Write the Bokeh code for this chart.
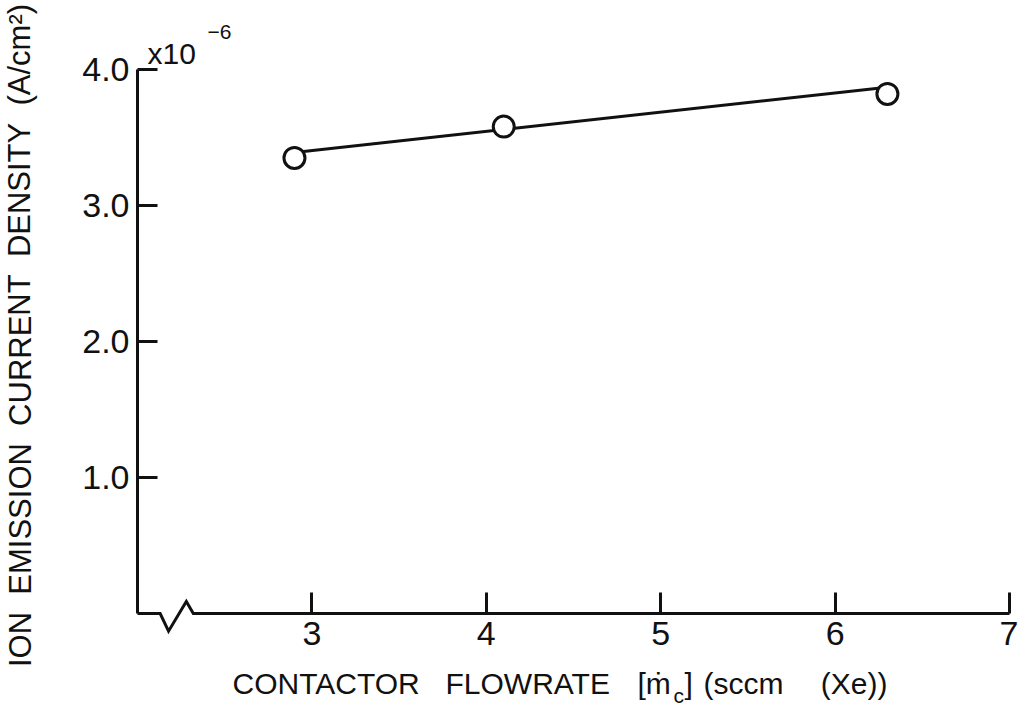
from bokeh.plotting import figure
from bokeh.models import Range1d, FixedTicker, Label, LinearAxis
from bokeh.embed import file_html
from bokeh.resources import INLINE

# Measured ion emission current density (x10^-6 A/cm^2) vs contactor flowrate (sccm Xe)
flowrate = [2.9, 4.1, 6.3]
current_density = [3.35, 3.58, 3.82]

# Straight-line fit drawn through the measurements
fit_flowrate = [2.9, 6.3]
fit_density = [3.39, 3.87]

x_ticks = [3, 4, 5, 6, 7]
x_tick_labels = ["3", "4", "5", "6", "7"]
y_ticks = [1, 2, 3, 4]
y_tick_labels = ["1.0", "2.0", "3.0", "4.0"]

FONT = "Liberation Sans"
INK = "#111111"
NBSP2 = "\u00a0\u00a0"

W, H = 1018, 706
X0_PX, Y0_PX = 137, 613          # canvas position of the axes corner (x=2, y=0)
X_SCALE, Y_SCALE = 174.4, 136.0  # pixels per data unit
x_lo = 2.0 - X0_PX / X_SCALE
y_hi = Y0_PX / Y_SCALE
p = figure(
    width=W, height=H,
    x_range=Range1d(x_lo, x_lo + W / X_SCALE),
    y_range=Range1d(y_hi - H / Y_SCALE, y_hi),
    x_axis_location=None, y_axis_location=None,
    output_backend="svg", toolbar_location=None,
    min_border=0,
)
p.outline_line_color = None
p.xgrid.visible = False
p.ygrid.visible = False
p.background_fill_color = "white"
p.border_fill_color = "white"

# y axis: inward ticks, line only from 0 to 4
ya = LinearAxis(fixed_location=2.0)
ya.ticker = FixedTicker(ticks=y_ticks)
ya.major_label_overrides = {t: s for t, s in zip(y_ticks, y_tick_labels)}
ya.bounds = (0, 4)
ya.axis_line_width = 3
ya.axis_line_color = INK
ya.major_tick_in = 20
ya.major_tick_out = 0
ya.major_tick_line_width = 3
ya.major_tick_line_color = INK
ya.minor_tick_line_color = None
ya.major_label_standoff = 8
ya.major_label_text_font = FONT
ya.major_label_text_font_size = "34px"
ya.major_label_text_color = INK
p.add_layout(ya, "left")

# x axis: drawn at y = 0, its line replaced by a broken line below
xa = LinearAxis(fixed_location=0)
xa.ticker = FixedTicker(ticks=x_ticks)
xa.major_label_overrides = {t: s for t, s in zip(x_ticks, x_tick_labels)}
xa.bounds = (2, 7)
xa.axis_line_color = None
xa.major_tick_in = 21
xa.major_tick_out = 0
xa.major_tick_line_width = 3
xa.major_tick_line_color = INK
xa.minor_tick_line_color = None
xa.major_label_standoff = 8
xa.major_label_text_font = FONT
xa.major_label_text_font_size = "34px"
xa.major_label_text_color = INK
p.add_layout(xa, "below")

# broken x axis line (zigzag marks the suppressed origin)
brk_x = [2.0, 2.13, 2.178, 2.28, 2.32, 7.0]
brk_y = [0.0, 0.0, -0.13, 0.088, 0.0, 0.0]
p.line(brk_x, brk_y, line_width=3, line_color=INK, line_join="miter")

# fit line and measured points
p.line(fit_flowrate, fit_density, line_width=3, line_color=INK)
p.scatter(flowrate, current_density, marker="circle", size=21,
          fill_color="white", line_color=INK, line_width=3)


def note(text, dx, dy, size, **kw):
    """Text anchored at the axes corner (x=2, y=0), offset in pixels."""
    p.add_layout(Label(x=2.0, y=0.0, x_offset=dx, y_offset=dy, text=text,
                       text_baseline="bottom", text_font=FONT,
                       text_font_size=size, text_color=INK, **kw))


# axis multiplier
note("x10", 10, 544, "30px")
note("\u22126", 70, 575, "21px")

# y axis title
note(NBSP2.join(["ION", "EMISSION", "CURRENT", "DENSITY", "(A/cm\u00b2)"]),
     -100, 278, "31px", angle=1.5708, text_align="center")

# x axis title, pieced together for the subscript
base = -86
note("CONTACTOR", 95, base, "30px")
note("FLOWRATE", 308, base, "30px")
note("[\u1e41", 500, base, "30px")
note("c", 536, base - 7, "21px")
note("]", 547, base, "30px")
note("(sccm", 566, base, "30px")
note("(Xe))", 750, base, "30px", text_align="right")

open("out.html", "w").write(file_html(p, INLINE))
